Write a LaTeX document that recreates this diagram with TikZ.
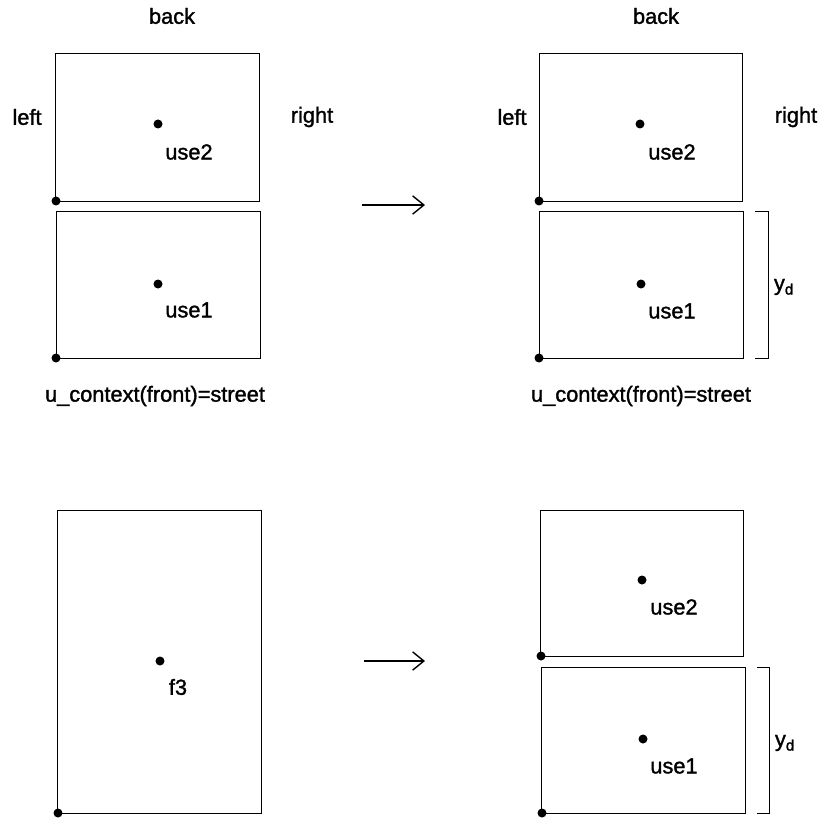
\documentclass[tikz,border=0pt]{standalone}
\usepackage{fontspec}
\setmainfont{Liberation Sans}
\newfontfamily\lblfont{Liberation Sans}[FakeBold=1.4]
\usetikzlibrary{arrows.meta}
\newcommand{\lot}[2]{\draw (#1) rectangle (#2)}
\newcommand{\spot}[1]{\fill (#1) circle (3.2pt)}

\begin{document}
\begin{tikzpicture}[x=0.025cm,y=-0.025cm,line width=0.6pt,
	every node/.style={font=\lblfont\fontsize{15.5}{18}\selectfont},
	maparrow/.style={line width=1pt,-{Straight Barb[length=8pt,width=13pt]}}]
\useasboundingbox (0,0) rectangle (820,820);
% top, before
	\lot{55,53}{259,201};
	\lot{56,211}{260,358};
	\spot{158,124};
	\spot{158,284};
	\spot{56,201};
	\spot{56,358};
	\node (backA) at (172,16) {back};
	\node (leftA) at (27,117) {left};
	\node (rightA) at (312,117) {right};
	\node (useTwoA) at (189,152) {use2};
	\node (useOneA) at (189,310) {use1};
	\node (ctxA) at (155,396) {u\_context(front)=street};
%
	\coordinate (arrA) at (362,205);
	\coordinate (arrB) at (425,205);
	\draw[maparrow] (arrA) -- (arrB);
% top, after
	\lot{539,53}{742,201};
	\lot{539,211}{743,358};
	\spot{640,124};
	\spot{641,284};
	\spot{539,201};
	\spot{539,358};
	\node (backB) at (656,16) {back};
	\node (leftB) at (512,117) {left};
	\node (rightB) at (796,117) {right};
	\node (useTwoB) at (672,152) {use2};
	\node (useOneB) at (672,311) {use1};
	\node (ctxB) at (641,396) {u\_context(front)=street};
	\draw (755,211) -- (768,211) -- (768,358) -- (755,358);
	\node (ydA) at (784,287) {y\textsubscript{d}};
% bottom, before
	\lot{57,510}{261,813};
	\spot{160,661};
	\spot{58,813};
	\node (fThree) at (178,687) {f3};
%
	\coordinate (arrC) at (364,661);
	\coordinate (arrD) at (425,661);
	\draw[maparrow] (arrC) -- (arrD);
% bottom, after
	\lot{540,510}{743,656};
	\lot{541,667}{745,813};
	\spot{642,580};
	\spot{643,739};
	\spot{541,656};
	\spot{542,813};
	\node (useTwoC) at (674,607) {use2};
	\node (useOneC) at (674,766) {use1};
	\draw (757,667) -- (769,667) -- (769,813) -- (757,813);
	\node (ydB) at (785,743) {y\textsubscript{d}};
\end{tikzpicture}
\end{document}
